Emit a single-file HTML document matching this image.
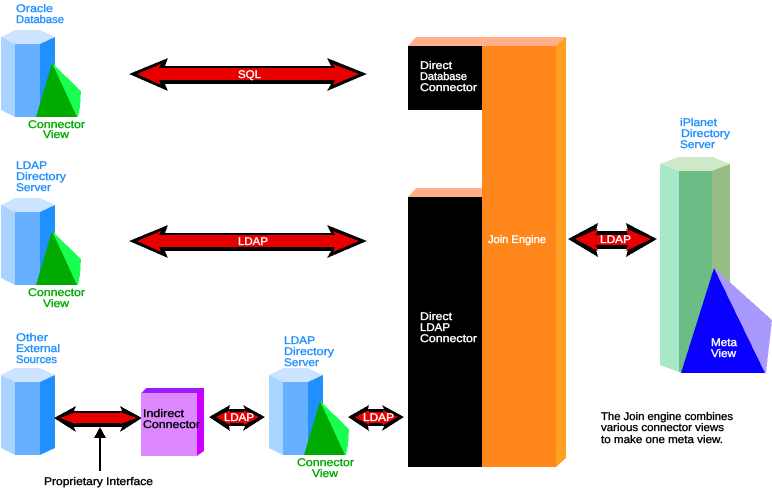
<!DOCTYPE html>
<html><head><meta charset="utf-8"><style>
html,body{margin:0;padding:0;background:#fff;width:772px;height:489px;overflow:hidden}
svg{display:block}
text{font-family:"Liberation Sans",sans-serif;font-size:11px;font-weight:normal;stroke-width:.35px;paint-order:stroke}
.b{fill:#2090ff;stroke:#2090ff}.g{fill:#00aa00;stroke:#00aa00}.w{fill:#fff;stroke:#fff}.k{fill:#000;stroke:#000}
</style></head><body>
<svg width="772" height="489" viewBox="0 0 772 489" xmlns="http://www.w3.org/2000/svg" shape-rendering="crispEdges" text-rendering="geometricPrecision">
<defs>
<g id="cyl">
<polygon points="15,30 40,30 55,37 40,44 15,44 1,37" fill="#cce4ff"/>
<polygon points="1,37 15,44 15,117 1,110" fill="#a8d4ff"/>
<rect x="15" y="44" width="25" height="73" fill="#66b0ff"/>
<polygon points="40,44 55,37 55,110 40,117" fill="#2090ff"/>
</g>
<g id="pyr">
<polygon points="52,63 81,91 80,107 78,117 73,117" fill="#18ff50"/>
<polygon points="52,63 77,117 36,117" fill="#00aa00"/>
</g>
<g id="big">
<polygon points="129,74 168,58 165,66 331,66 327,58 367,74 327,91 331,84 165,84 168,91" fill="#000"/>
<polygon points="137,74 161,64 159,68 335,68 333,64 359,74 333,85 335,80 159,80 161,85" fill="#e80000"/>
</g>
<g id="small">
<polygon points="209,417 230,405 229,409 245,409 243,405 265,417 243,431 245,426 229,426 230,431" fill="#000"/>
<polygon points="216,417 230,410 230,412 244,412 244,410 259,417 244,425 244,423 230,423 230,425" fill="#e80000"/>
</g>
</defs>

<!-- left stacks -->
<use href="#cyl"/><use href="#pyr"/>
<use href="#cyl" y="168"/><use href="#pyr" y="168"/>
<use href="#cyl" y="338"/>
<use href="#cyl" x="268" y="338"/><use href="#pyr" x="268" y="338"/>

<!-- arrows -->
<use href="#big"/>
<use href="#big" y="167"/>
<polygon points="568,239 598,223 596,231 628,231 626,223 657,239 626,257 628,249 596,249 598,257" fill="#000"/>
<polygon points="575,239 598,229 596,235 628,235 626,229 651,239 626,251 628,245 596,245 598,251" fill="#e80000"/>
<use href="#small"/>
<use href="#small" x="139"/>
<polygon points="54,418 76,406 74,411 122,411 120,406 142,418 120,432 122,427 74,427 76,432" fill="#000"/>
<polygon points="60,418 76,412 76,413 120,413 120,412 137,418 120,424 120,423 76,423 76,424" fill="#e80000"/>
<polygon points="100,427 106,438 101,438 101,471 99,471 99,438 94,438" fill="#000"/>

<!-- indirect connector -->
<polygon points="141,393 146,388 204,388 197,393" fill="#9a1cff"/>
<polygon points="197,393 204,388 204,451 197,456" fill="#cc00ff"/>
<rect x="141" y="393" width="56" height="63" fill="#dd88ff"/>

<!-- join engine -->
<polygon points="408,46 416,37 566,37 556,46" fill="#ffb088"/>
<polygon points="556,46 566,37 566,458 556,467" fill="#ffa020"/>
<rect x="482" y="46" width="74" height="421" fill="#ff861a"/>
<rect x="408" y="46" width="74" height="64" fill="#000"/>
<polygon points="408,197 416,188 482,188 482,197" fill="#ffb088"/>
<rect x="408" y="197" width="74" height="270" fill="#000"/>

<!-- iPlanet -->
<polygon points="678,157 713,157 730,164 712,171 679,171 660,164" fill="#cfe8c8"/>
<polygon points="660,164 679,171 679,372 660,365" fill="#a8e8c8"/>
<rect x="679" y="171" width="33" height="201" fill="#6cbd85"/>
<polygon points="712,171 730,164 730,300 712,300" fill="#95bd85"/>
<polygon points="714,268 772,320 766,373 760,373" fill="#a899ff"/>
<polygon points="714,268 765,373 681,373" fill="#0a00ff"/>

<!-- labels -->
<text class="b" x="16" y="12" textLength="37" lengthAdjust="spacingAndGlyphs">Oracle</text>
<text class="b" x="16" y="23" textLength="48" lengthAdjust="spacingAndGlyphs">Database</text>
<text class="g" x="28" y="128" textLength="57" lengthAdjust="spacingAndGlyphs">Connector</text>
<text class="g" x="43" y="138" textLength="26" lengthAdjust="spacingAndGlyphs">View</text>
<text class="b" x="16" y="169" textLength="31" lengthAdjust="spacingAndGlyphs">LDAP</text>
<text class="b" x="16" y="180" textLength="50" lengthAdjust="spacingAndGlyphs">Directory</text>
<text class="b" x="16" y="191" textLength="35" lengthAdjust="spacingAndGlyphs">Server</text>
<text class="g" x="28" y="296" textLength="57" lengthAdjust="spacingAndGlyphs">Connector</text>
<text class="g" x="43" y="307" textLength="26" lengthAdjust="spacingAndGlyphs">View</text>
<text class="b" x="16" y="341" textLength="32" lengthAdjust="spacingAndGlyphs">Other</text>
<text class="b" x="16" y="352" textLength="44" lengthAdjust="spacingAndGlyphs">External</text>
<text class="b" x="16" y="363" textLength="41" lengthAdjust="spacingAndGlyphs">Sources</text>
<text class="b" x="284" y="344" textLength="31" lengthAdjust="spacingAndGlyphs">LDAP</text>
<text class="b" x="284" y="355" textLength="50" lengthAdjust="spacingAndGlyphs">Directory</text>
<text class="b" x="284" y="366" textLength="35" lengthAdjust="spacingAndGlyphs">Server</text>
<text class="g" x="297" y="466" textLength="57" lengthAdjust="spacingAndGlyphs">Connector</text>
<text class="g" x="312" y="477" textLength="26" lengthAdjust="spacingAndGlyphs">View</text>
<text class="k" x="143" y="417" textLength="41" lengthAdjust="spacingAndGlyphs">Indirect</text>
<text class="k" x="143" y="428" textLength="57" lengthAdjust="spacingAndGlyphs">Connector</text>
<text class="k" x="44" y="485" textLength="109" lengthAdjust="spacingAndGlyphs">Proprietary Interface</text>
<text class="w" x="420" y="69" textLength="32" lengthAdjust="spacingAndGlyphs">Direct</text>
<text class="w" x="420" y="80" textLength="47" lengthAdjust="spacingAndGlyphs">Database</text>
<text class="w" x="420" y="91" textLength="57" lengthAdjust="spacingAndGlyphs">Connector</text>
<text class="w" x="420" y="320" textLength="32" lengthAdjust="spacingAndGlyphs">Direct</text>
<text class="w" x="420" y="331" textLength="30" lengthAdjust="spacingAndGlyphs">LDAP</text>
<text class="w" x="420" y="342" textLength="57" lengthAdjust="spacingAndGlyphs">Connector</text>
<text class="w" x="488" y="243" textLength="58" lengthAdjust="spacingAndGlyphs">Join Engine</text>
<text class="b" x="680" y="126" textLength="37" lengthAdjust="spacingAndGlyphs">iPlanet</text>
<text class="b" x="681" y="137" textLength="49" lengthAdjust="spacingAndGlyphs">Directory</text>
<text class="b" x="680" y="148" textLength="35" lengthAdjust="spacingAndGlyphs">Server</text>
<text class="w" x="711" y="346" textLength="26" lengthAdjust="spacingAndGlyphs">Meta</text>
<text class="w" x="711" y="357" textLength="25" lengthAdjust="spacingAndGlyphs">View</text>
<text class="k" x="601" y="420" textLength="132" lengthAdjust="spacingAndGlyphs">The Join engine combines</text>
<text class="k" x="601" y="431" textLength="123" lengthAdjust="spacingAndGlyphs">various connector views</text>
<text class="k" x="601" y="443" textLength="122" lengthAdjust="spacingAndGlyphs">to make one meta view.</text>
<text class="w" x="238" y="78" textLength="23" lengthAdjust="spacingAndGlyphs">SQL</text>
<text class="w" x="238" y="245" textLength="30" lengthAdjust="spacingAndGlyphs">LDAP</text>
<text class="w" x="600" y="243" textLength="31" lengthAdjust="spacingAndGlyphs">LDAP</text>
<text class="w" x="224" y="421" textLength="30" lengthAdjust="spacingAndGlyphs">LDAP</text>
<text class="w" x="363" y="421" textLength="31" lengthAdjust="spacingAndGlyphs">LDAP</text>
</svg>
</body></html>
